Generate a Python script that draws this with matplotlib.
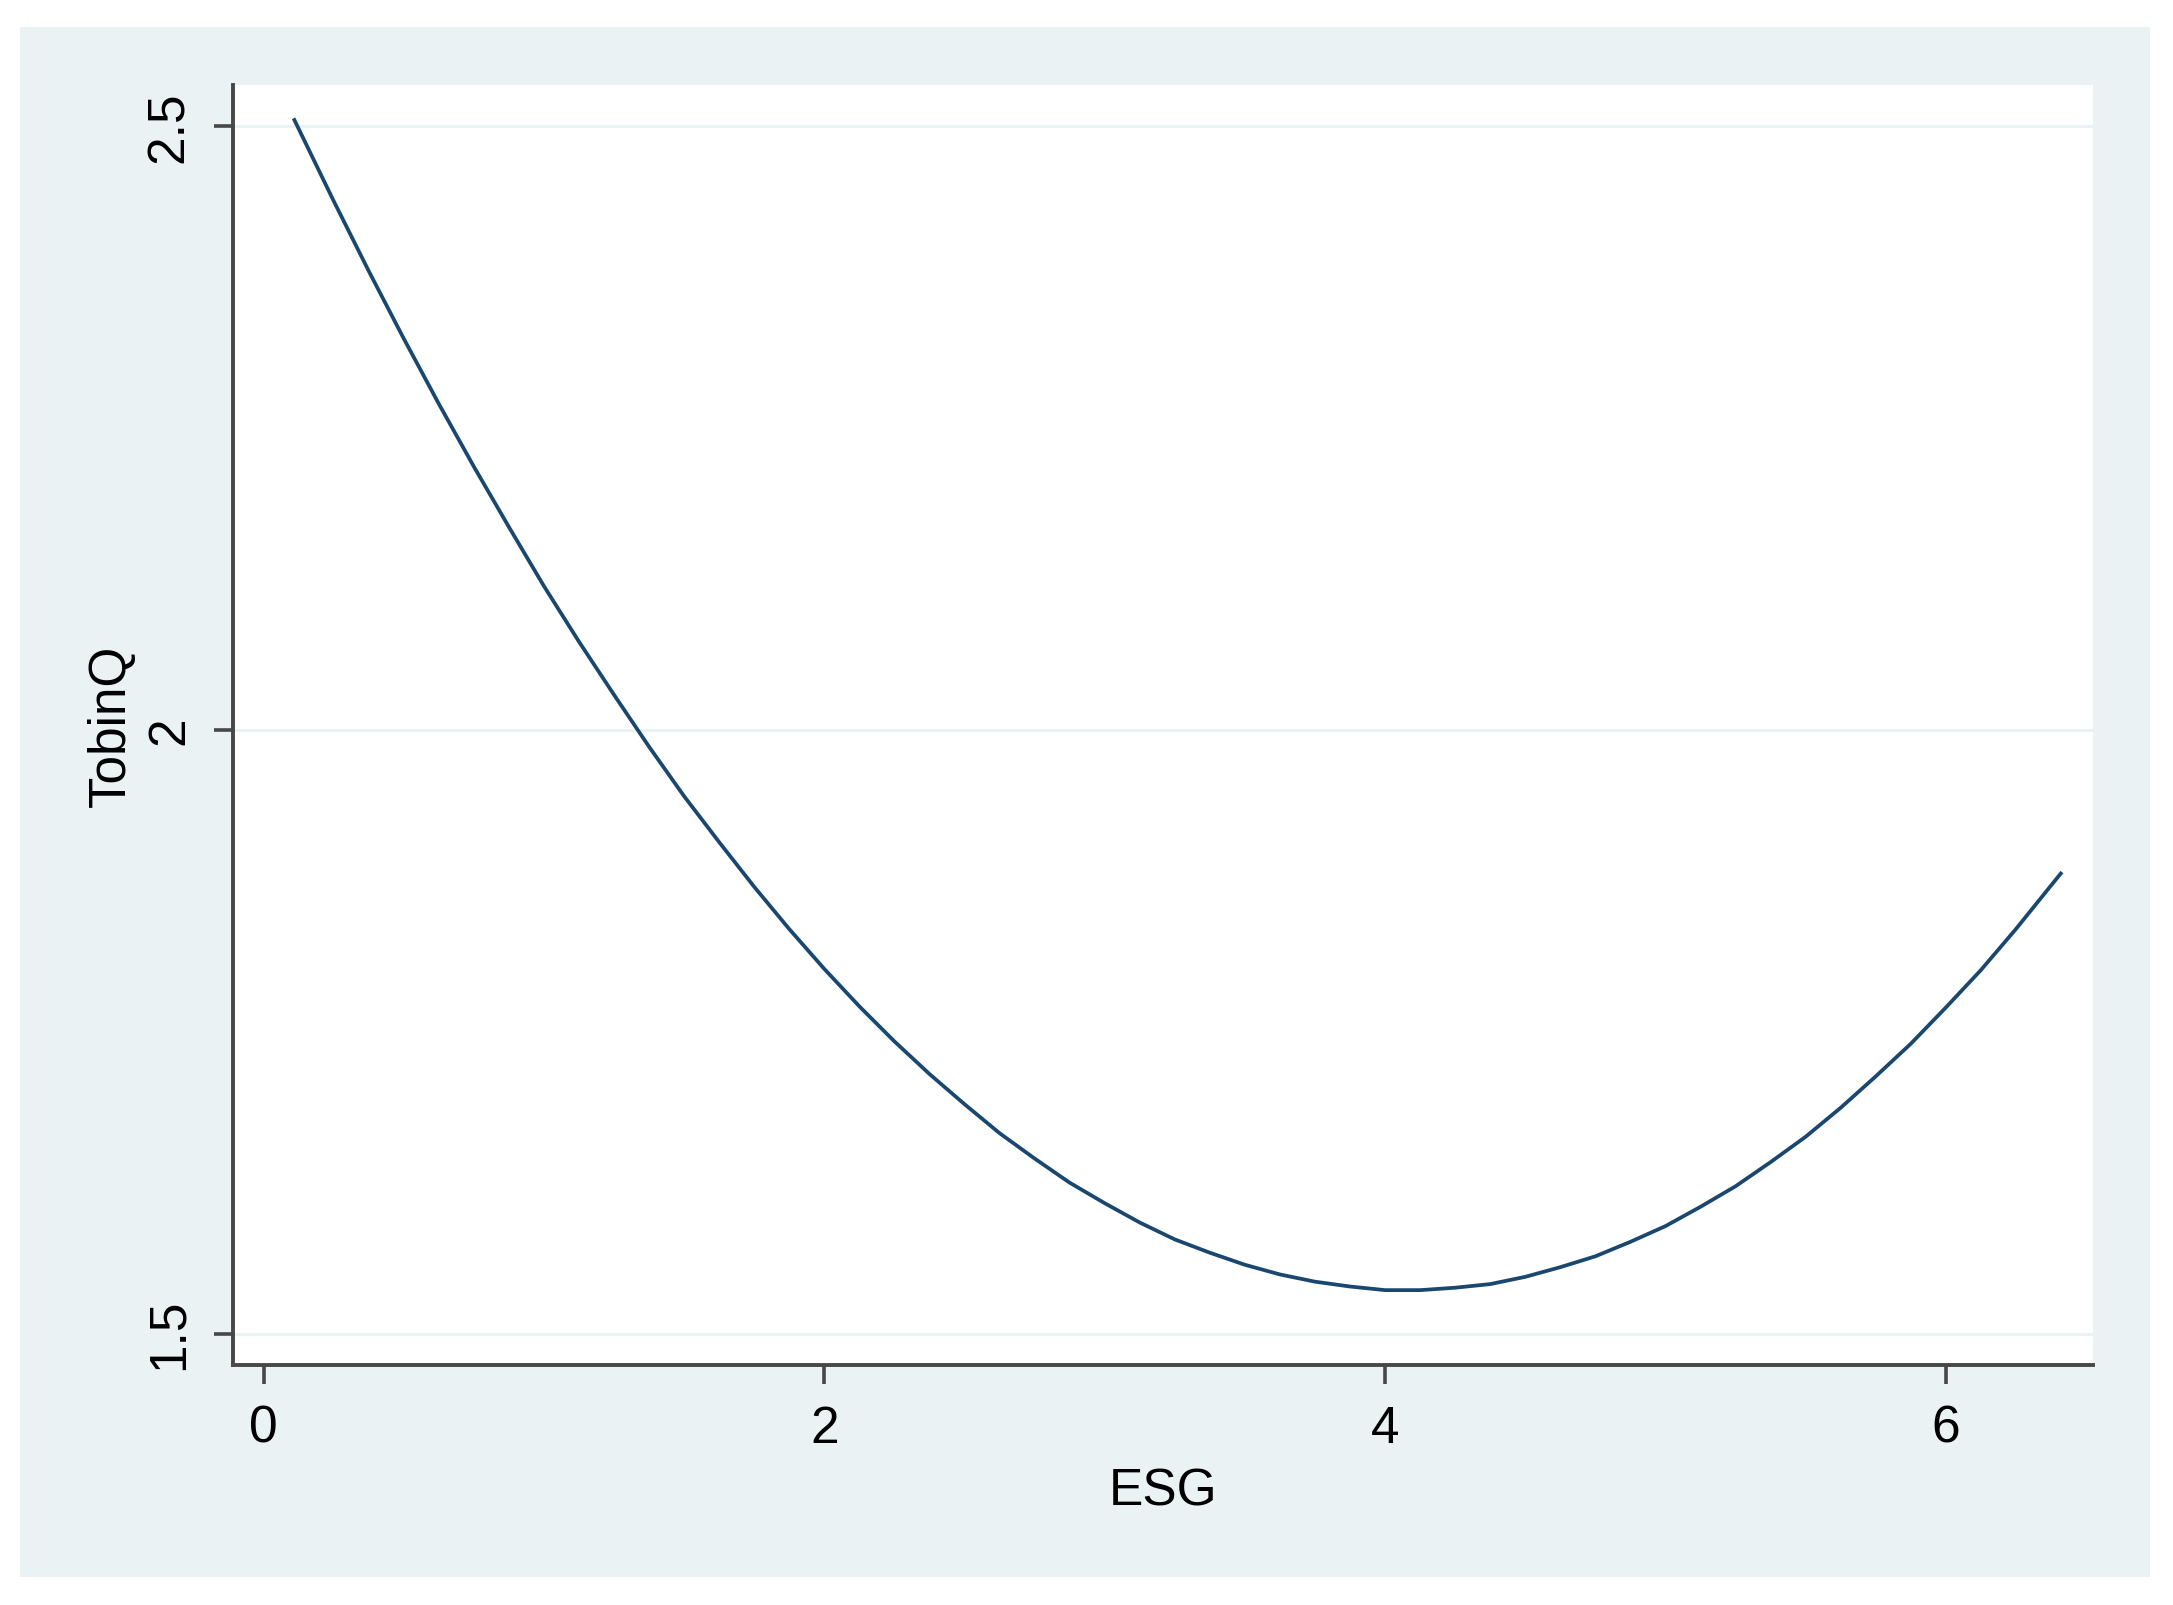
import matplotlib
matplotlib.use("Agg")
import matplotlib.pyplot as plt
from matplotlib.patches import Rectangle

# values
esg = [0.11, 0.25, 0.375, 0.5, 0.625, 0.75, 0.875, 1.0, 1.125, 1.25, 1.375,
       1.5, 1.625, 1.75, 1.875, 2.0, 2.125, 2.25, 2.375, 2.5, 2.625, 2.75,
       2.875, 3.0, 3.125, 3.25, 3.375, 3.5, 3.625, 3.75, 3.875, 4.0, 4.125,
       4.25, 4.375, 4.5, 4.625, 4.75, 4.875, 5.0, 5.125, 5.25, 5.375, 5.5,
       5.625, 5.75, 5.875, 6.0, 6.125, 6.25, 6.375, 6.41]
tobinq = [2.505, 2.438, 2.380, 2.324, 2.270, 2.218, 2.168, 2.119, 2.073,
          2.029, 1.986, 1.945, 1.907, 1.870, 1.835, 1.802, 1.771, 1.742,
          1.715, 1.690, 1.666, 1.645, 1.625, 1.608, 1.592, 1.578, 1.567,
          1.557, 1.549, 1.543, 1.539, 1.536, 1.536, 1.538, 1.541, 1.547,
          1.555, 1.564, 1.576, 1.589, 1.605, 1.622, 1.642, 1.663, 1.687,
          1.713, 1.740, 1.770, 1.801, 1.835, 1.871, 1.881]
xticks = [0, 2, 4, 6]
yticks = [1.5, 2, 2.5]
ytick_labels = ["1.5", "2", "2.5"]

plt.rcParams['font.family'] = ['Liberation Sans', 'DejaVu Sans']

W, H = 2173, 1606
fig = plt.figure(figsize=(W/100, H/100), dpi=100, facecolor='white')

# light stata-like background panel
bg = Rectangle((20/W, 1 - 1578/H), (2150-20)/W, (1578-28)/H,
               transform=fig.transFigure, facecolor='#EAF2F3',
               edgecolor='none', zorder=-10)
fig.add_artist(bg)

ax = fig.add_axes([233/W, 1 - 1366/H, (2093-233)/W, (1366-86)/H])
ax.set_zorder(1)
ax.set_facecolor('white')

for y in yticks:
    ax.axhline(y, color='#EAF2F3', lw=2.2, zorder=1)

ax.plot(esg, tobinq, color='#1A476F', lw=2.7, zorder=3,
        solid_joinstyle='round')

ax.set_xlim(-0.109, 6.525)
ax.set_ylim(1.474, 2.534)
ax.set_xticks(xticks)
ax.set_yticks(yticks)
ax.set_yticklabels(ytick_labels)

for s in ['top', 'right']:
    ax.spines[s].set_visible(False)
for s in ['left', 'bottom']:
    ax.spines[s].set_color('#474747')
    ax.spines[s].set_linewidth(2.8)

ax.tick_params(axis='both', direction='out', length=14, width=2.6,
               color='#474747', labelsize=37, labelcolor='black')
ax.tick_params(axis='x', pad=14)
ax.tick_params(axis='y', pad=14, labelrotation=90)
for lab in ax.get_yticklabels():
    lab.set_va('center')

ax.set_xlabel('ESG', fontsize=37, labelpad=10)
ax.set_ylabel('TobinQ', fontsize=37, labelpad=7)

fig.savefig('out.png', dpi=100, facecolor='white')
